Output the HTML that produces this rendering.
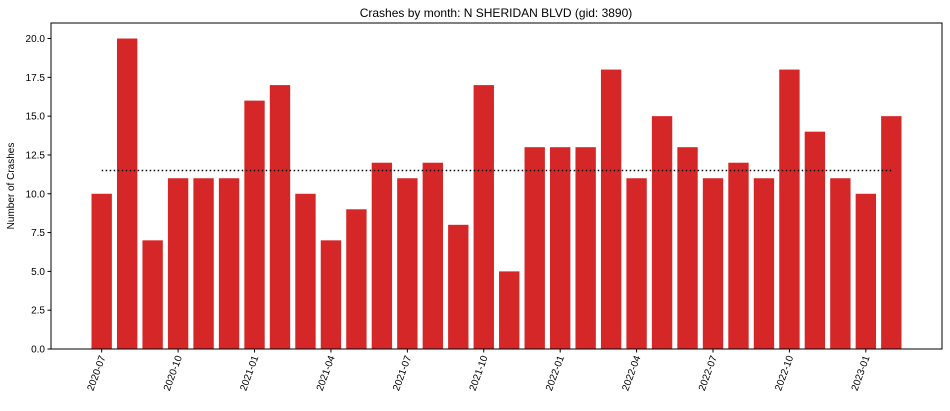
<!DOCTYPE html>
<html><head><meta charset="utf-8"><style>
body{margin:0;background:#fff;font-family:"Liberation Sans","DejaVu Sans",sans-serif;}
svg text{font-family:"Liberation Sans","DejaVu Sans",sans-serif;}
</style></head><body>
<svg id="chart" width="950" height="406">
<text x="496" y="17" font-size="12" text-anchor="middle">Crashes by month: N SHERIDAN BLVD (gid: 3890)</text>
<text transform="translate(14,186) rotate(-90)" font-size="10" text-anchor="middle">Number of Crashes</text>
<g id="bars"></g><g id="axes"></g>
</svg>
<script>
const categories=["2020-07","2020-08","2020-09","2020-10","2020-11","2020-12","2021-01","2021-02","2021-03","2021-04","2021-05","2021-06","2021-07","2021-08","2021-09","2021-10","2021-11","2021-12","2022-01","2022-02","2022-03","2022-04","2022-05","2022-06","2022-07","2022-08","2022-09","2022-10","2022-11","2022-12","2023-01","2023-02"];
const crashes=[10,20,7,11,11,11,16,17,10,7,9,12,11,12,8,17,5,13,13,13,18,11,15,13,11,12,11,18,14,11,10,15];
const referenceLine=[11.5];
const yTicks=[0,2.5,5,7.5,10,12.5,15,17.5,20];
const yTickLabels=["0.0","2.5","5.0","7.5","10.0","12.5","15.0","17.5","20.0"];
const NS="http://www.w3.org/2000/svg";
const L=51,R=942,T=23,B=349;
const n=categories.length;
const xmin=-0.4-0.05*(n-0.2),xmax=n-0.6+0.05*(n-0.2);
const x=i=>L+(i-xmin)/(xmax-xmin)*(R-L);
const y=v=>B-v/21*(B-T);
const bw=0.8*(R-L)/(xmax-xmin);
function mk(tag,attrs,parent){const e=document.createElementNS(NS,tag);for(const k in attrs)e.setAttribute(k,attrs[k]);parent.appendChild(e);return e;}
const svg=document.getElementById('chart');
const bars=document.getElementById('bars');
const axes=document.getElementById('axes');
crashes.forEach((v,i)=>{
 const r=mk('rect',{x:x(i)-bw/2,y:y(v),width:bw,height:B-y(v),fill:'#d62728'},bars);
 
 
});
const ml=mk('line',{x1:x(0),x2:x(n-1),y1:y(referenceLine[0]),y2:y(referenceLine[0]),stroke:'#000','stroke-width':1.5,'stroke-dasharray':'1.5,2.5'},svg);


const frame=mk('rect',{x:L,y:T,width:R-L,height:B-T,fill:'none',stroke:'#000','stroke-width':1},axes);


yTicks.forEach((t,i)=>{
 mk('line',{x1:L-3.5,x2:L,y1:y(t),y2:y(t),stroke:'#000'},axes);
 const tx=mk('text',{x:L-6,y:y(t)+3.5,'font-size':10,'text-anchor':'end'},axes);
 tx.textContent=yTickLabels[i];
 
 
});
categories.forEach((c,i)=>{
 if(i%3!==0)return;
 const px=x(i);
 mk('line',{x1:px,x2:px,y1:B,y2:B+3.5,stroke:'#000'},axes);
 const tx=mk('text',{transform:`translate(${px+4},${B+8}) rotate(-70)`,'font-size':10,'text-anchor':'end'},axes);
 tx.textContent=c;
 
 
});
</script>
</body></html>
